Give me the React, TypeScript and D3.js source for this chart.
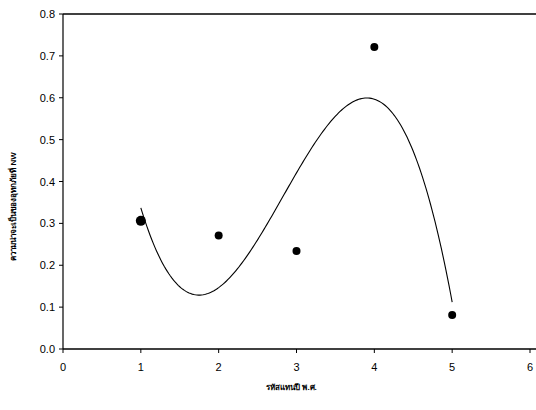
import React from "react";
import * as d3 from "d3";

const years = [1, 2, 3, 4, 5];
const probs = [0.306, 0.271, 0.234, 0.721, 0.081];
const xTicks = [0, 1, 2, 3, 4, 5, 6];
const yTicks = [0, 0.1, 0.2, 0.3, 0.4, 0.5, 0.6, 0.7, 0.8];
const xTitle = "รหัสแทนปี พ.ศ.";
const yTitle = "ความน่าจะเป็นของอุทกภัยที่ NW";

// least-squares cubic trendline
function cubicFit(xs: number[], ys: number[]) {
  const n = 4;
  const A: number[][] = [];
  for (let i = 0; i < n; i++) {
    A.push([]);
    for (let j = 0; j < n; j++) A[i].push(d3.sum(xs, (x) => Math.pow(x, i + j)));
    A[i].push(d3.sum(xs, (x, k) => Math.pow(x, i) * ys[k]));
  }
  for (let c = 0; c < n; c++) {
    let p = c;
    for (let r = c + 1; r < n; r++) if (Math.abs(A[r][c]) > Math.abs(A[p][c])) p = r;
    [A[c], A[p]] = [A[p], A[c]];
    for (let r = 0; r < n; r++) {
      if (r === c) continue;
      const f = A[r][c] / A[c][c];
      for (let k = c; k <= n; k++) A[r][k] -= f * A[c][k];
    }
  }
  const coef = A.map((row, i) => row[n] / row[i]);
  return (x: number) => coef.reduce((s, c, i) => s + c * Math.pow(x, i), 0);
}

export default function App() {
  const W = 536, H = 410;
  const x = d3.scaleLinear().domain([0, 6]).range([63, 530]);
  const y = d3.scaleLinear().domain([0, 0.8]).range([349, 14]);
  const f = cubicFit(years, probs);
  const xs = d3.range(1, 5.0001, 0.02);
  const line = d3.line<number>().x((d) => x(d)).y((d) => y(f(d))).curve(d3.curveLinear);
  const font = "'Liberation Sans Narrow', 'Liberation Sans', Arial, sans-serif";
  return (
    <svg width={W} height={H} style={{ position: "absolute", left: 0, top: 0, background: "#fff" }}>
      {/* frame */}
      <line x1={x(0)} x2={W} y1={y(0.8)} y2={y(0.8)} stroke="#000" strokeWidth={1.5} />
      <line x1={x(0)} x2={W} y1={y(0)} y2={y(0)} stroke="#000" strokeWidth={1.5} />
      <line x1={x(0)} x2={x(0)} y1={y(0.8)} y2={y(0)} stroke="#000" strokeWidth={1.2} />
      {yTicks.map((t) => (
        <g key={t}>
          <line x1={x(0) - 4} x2={x(0)} y1={y(t)} y2={y(t)} stroke="#000" />
          <text x={x(0) - 8} y={y(t) + 4} textAnchor="end" fontSize={11} fontFamily={font}>
            {t.toFixed(1)}
          </text>
        </g>
      ))}
      {xTicks.map((t) => (
        <g key={t}>
          <line x1={x(t)} x2={x(t)} y1={y(0)} y2={y(0) + 4} stroke="#000" />
          <text x={x(t)} y={y(0) + 22} textAnchor="middle" fontSize={11} fontFamily={font}>
            {t}
          </text>
        </g>
      ))}
      <path d={line(xs) || ""} fill="none" stroke="#000" strokeWidth={1.1} />
      {years.map((yr, i) => (
        <circle key={yr} cx={x(yr)} cy={y(probs[i])} r={i === 0 ? 5 : 4} fill="#000" />
      ))}
      <text x={(x(0) + x(6)) / 2 - 5} y={390} textAnchor="middle" fontSize={8} fontWeight="bold" fontFamily={font}>
        {xTitle}
      </text>
      <text
        transform={`translate(16, ${y(0.4) + 25}) rotate(-90)`}
        textAnchor="middle"
        fontSize={8}
        fontWeight="bold"
        fontFamily={font}
      >
        {yTitle}
      </text>
    </svg>
  );
}
